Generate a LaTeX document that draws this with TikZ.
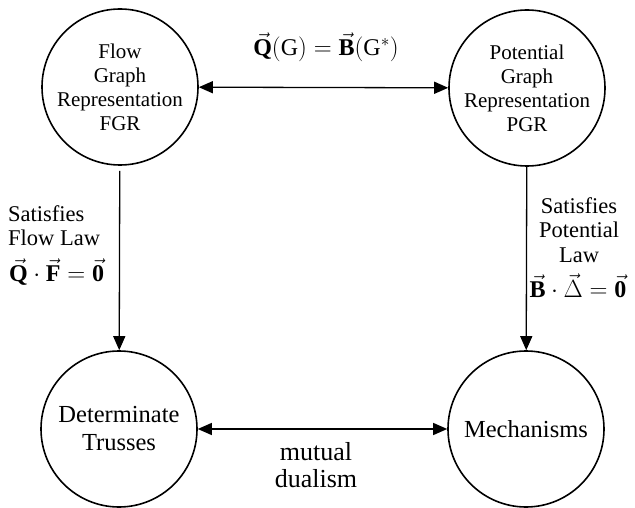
\documentclass[tikz,border=0pt]{standalone}
\usepackage{fontspec}
\setmainfont{Liberation Serif}
\usetikzlibrary{arrows.meta}

\begin{document}
\begin{tikzpicture}[x=1pt, y=-1pt,
  state/.style={draw, circle, line width=1.6pt, minimum size=156pt, inner sep=0pt,
    align=center, font=\fontsize{21}{24}\selectfont},
  bigstate/.style={state, font=\fontsize{24.5}{28}\selectfont},
  lbl/.style={inner sep=0pt, font=\fontsize{22.5}{24.5}\selectfont},
  eq/.style={inner sep=0pt, font=\fontsize{24}{28}\selectfont},
  link/.style={line width=1.3pt, -{Triangle[length=14pt,width=12pt]}},
  dual/.style={link, {Triangle[length=14pt,width=12pt]}-{Triangle[length=14pt,width=12pt]}}]

  % Rahmen (635 x 508)
  \useasboundingbox (0,0) rectangle (635,508);

  % Die vier Darstellungen
  \node[state] (fgr) at (120,87) {Flow\\Graph\\Representation\\FGR};
  \node[state] (pgr) at (527,88) {Potential\\Graph\\Representation\\PGR};
  \node[bigstate] (trusses) at (119,429) {Determinate\\Trusses};
  \node[bigstate] (mech) at (526,429) {Mechanisms};

  % Verbindungen
  \draw[dual] (fgr) -- (pgr);
  \draw[dual] (trusses) -- (mech);
  \draw[link, shorten <=5pt] (fgr) -- (trusses);
  \draw[link] (pgr) -- (mech);

  % Beschriftungen
  \node[eq] (dualeq) at (326,47)
    {$\vec{\textbf{Q}}(\mbox{G})=\vec{\textbf{B}}(\mbox{G}^{*})$};
  \node[lbl, anchor=north west, align=left] (flowlaw) at (8,205) {Satisfies\\Flow Law};
  \node[eq, anchor=west] (floweq) at (9,272)
    {$\vec{\textbf{Q}}\cdot\vec{\textbf{F}}=\vec{\textbf{0}}$};
  \node[lbl, anchor=north, align=center] (potlaw) at (579,197) {Satisfies\\Potential\\Law};
  \node[eq] (poteq) at (578,286)
    {$\vec{\textbf{B}}\cdot\vec{\Delta}=\vec{\textbf{0}}$};
  \node[lbl, anchor=north, align=center, font=\fontsize{26}{27}\selectfont] (mutual)
    at (316,442) {mutual\\dualism};

\end{tikzpicture}
\end{document}
